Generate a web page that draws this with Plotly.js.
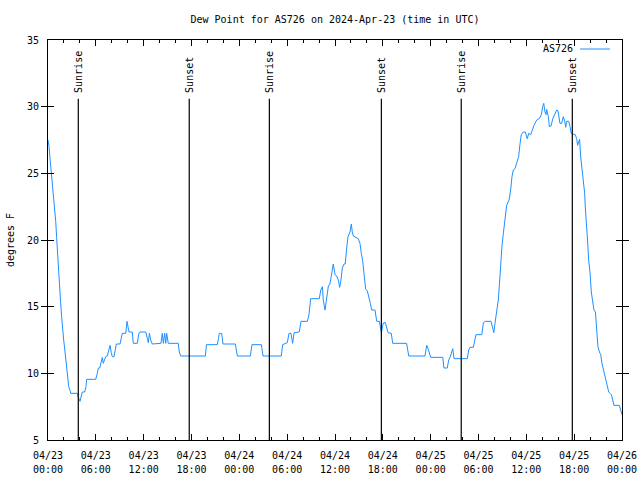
<!DOCTYPE html>
<html>
<head>
<meta charset="utf-8">
<script src="https://cdn.plot.ly/plotly-3.0.1.min.js"></script>
<style>html,body{margin:0;padding:0;background:#fff;}#chart{width:640px;height:480px;}</style>
</head>
<body>
<div id="chart"></div>
<script>
// Hours since 2024-04-23 00:00 UTC
const hoursSinceStart = [
0.00,0.13,0.25,0.41,0.54,0.66,0.84,0.97,1.09,1.22,1.34,1.47,1.59,1.72,1.84,1.97,2.09,2.22,2.35,2.47,2.60,2.76,2.85,3.68,3.76,4.01,4.18,4.30,4.60,4.77,4.85,5.98,6.18,6.31,6.48,6.69,6.81,6.94,7.11,7.24,7.44,7.65,7.78,7.94,8.07,8.28,8.40,8.57,9.03,9.19,9.32,9.75,9.91,10.04,10.16,10.57,10.70,11.20,11.38,11.54,12.26,12.46,12.58,12.71,12.88,13.08,14.17,14.34,14.46,14.64,14.76,14.89,15.09,16.34,16.47,16.65,
19.73,19.88,21.24,21.39,21.49,21.79,21.95,23.50,23.75,25.38,25.59,26.76,26.97,29.27,29.44,30.02,30.23,30.48,30.69,30.86,31.52,31.74,32.53,32.74,32.95,34.03,34.21,34.41,34.53,34.75,34.87,35.00,35.16,35.37,35.59,35.79,36.00,36.22,36.42,36.59,36.75,36.92,37.13,37.29,37.47,37.63,37.88,38.05,38.17,38.30,38.92,39.14,39.30,39.48,39.64,39.85,40.05,40.27,40.43,40.60,41.02,41.14,41.23,41.56,41.68,41.81,41.98,42.11,42.31,42.49,42.65,43.06,43.24,44.99,45.25,47.29,47.50,47.70,47.92,48.00,49.51,49.67,50.08,50.26,50.43,50.64,50.76,50.93,52.60,52.77,52.94,53.35,53.53,53.69,54.41,54.61,54.86,55.57,55.78,55.91,56.07,56.29,56.49,56.61,56.79,56.95,57.11,57.33,57.54,57.83,58.04,58.20,58.37,58.58,58.79,59.04,59.21,59.37,59.62,59.87,60.12,60.30,60.55,60.80,60.96,61.21,61.38,61.63,61.88,62.05,62.18,62.34,62.47,62.55,62.76,62.88,63.10,63.31,63.56,63.81,63.97,64.22,64.43,64.63,64.81,64.94,65.06,65.31,65.48,65.64,66.14,66.32,66.44,66.57,66.69,66.82,66.98,67.15,67.32,67.40,67.57,67.70,67.82,67.99,68.15,68.33,68.49,68.66,68.83,68.99,69.16,69.33,69.49,69.66,69.83,69.99,70.16,70.34,70.50,70.66,70.83,70.99,71.66,71.75,71.87,72.00
];
const dewPointF = [
27.5,27.0,26.15,25.1,24.2,23.0,22.1,21.4,20.2,18.7,17.4,16.3,15.3,14.2,13.1,12.5,11.9,11.1,10.3,9.65,9.0,8.7,8.5,8.5,8.25,7.9,8.25,8.6,8.6,9.0,9.55,9.55,10.0,10.4,10.4,11.0,11.2,10.75,11.1,11.25,11.3,11.75,12.1,11.55,11.25,11.25,11.75,12.2,12.2,12.6,13.0,13.0,13.9,13.5,13.1,13.1,12.25,12.25,12.95,13.1,13.1,12.6,12.3,13.0,12.5,12.2,12.25,13.0,12.25,13.0,12.25,13.0,12.25,12.25,11.6,11.3,
11.3,12.15,12.15,12.6,13.0,13.0,12.2,12.2,11.3,11.3,12.15,12.15,11.3,11.3,12.15,12.3,13.0,13.0,12.25,13.05,13.1,13.9,13.9,14.4,15.6,15.6,16.25,16.5,15.5,14.75,15.2,16.0,16.55,16.7,17.4,18.2,17.4,17.3,17.0,16.45,17.0,17.9,18.2,18.2,19.4,20.25,20.6,21.2,20.6,20.3,20.1,19.75,19.0,18.4,17.5,16.3,16.2,15.75,15.25,14.75,14.75,14.3,13.9,13.9,13.5,13.05,13.6,13.8,13.8,13.4,13.05,13.0,12.25,12.25,11.3,11.3,12.1,11.8,11.3,11.2,11.2,10.4,10.4,11.0,11.2,11.6,11.85,11.1,11.1,11.75,11.95,11.95,12.6,12.9,12.9,13.8,13.9,13.9,13.4,13.05,13.75,14.6,15.5,16.6,18.4,19.6,20.5,21.5,22.6,23.0,23.75,24.75,25.25,25.35,25.75,26.25,27.25,27.9,28.1,28.1,27.6,28.0,27.9,28.4,28.6,28.9,29.05,29.1,29.4,30.0,30.25,29.6,29.4,29.8,29.25,28.5,28.55,29.1,29.5,29.75,29.7,28.75,28.75,29.25,28.9,28.45,28.9,28.9,28.5,28.0,27.9,27.6,27.1,27.4,27.55,26.25,25.25,24.5,23.5,22.4,21.25,19.75,18.5,17.6,16.1,15.1,14.75,14.6,12.75,12.0,11.6,11.4,10.75,10.25,9.75,9.4,9.0,8.6,8.5,8.4,8.0,7.6,7.6,7.4,7.0,6.9
];
const sunTimes = ["2024-04-23 03:48","2024-04-23 17:43","2024-04-24 03:46","2024-04-24 17:49","2024-04-25 03:50","2024-04-25 17:46"];
const sunLabels = ["Sunrise","Sunset","Sunrise","Sunset","Sunrise","Sunset"];
const seriesName = "AS726";
const chartTitle = "Dew Point for AS726 on 2024-Apr-23 (time in UTC)";
const yLabel = "degrees F";
const xRange = ['2024-04-23 00:00', '2024-04-26 00:00'];

const base = Date.UTC(2024, 3, 23);
const times = hoursSinceStart.map(h => new Date(base + Math.round(h * 3600000 / 60000) * 60000).toISOString().replace('T', ' ').slice(0, 19));

const FONT = {family: "DejaVu Sans Mono, monospace", size: 10, color: "#000"};
const lineTop = 30.6;

const shapes = sunTimes.map(t => ({type: 'line', xref: 'x', yref: 'y', x0: t, x1: t, y0: 5, y1: lineTop, line: {color: '#000', width: 1.2}}));
shapes.push({type: 'line', xref: 'paper', yref: 'paper', x0: 0.927, x1: 0.979, y0: 0.9775, y1: 0.9775, line: {color: '#1E90FF', width: 1}});

const annotations = sunTimes.map((t, i) => ({x: t, y: lineTop, xref: 'x', yref: 'y', text: sunLabels[i], textangle: -90, showarrow: false, xanchor: 'center', yanchor: 'bottom', yshift: 4, font: FONT}));
annotations.push({x: 0.918, y: 0.9775, xref: 'paper', yref: 'paper', text: seriesName, showarrow: false, xanchor: 'right', yanchor: 'middle', font: FONT});

const trace = {x: times, y: dewPointF, type: 'scatter', mode: 'lines', name: seriesName, line: {color: '#1E90FF', width: 1}, showlegend: false};
// carrier for the second (time-of-day) label row of the shared x axis
const timeRow = {x: [times[0]], y: [null], xaxis: 'x2', yaxis: 'y', type: 'scatter', mode: 'lines', showlegend: false, hoverinfo: 'skip'};

const axBase = {
  type: 'date', range: xRange, tick0: xRange[0], dtick: 6 * 3600000,
  showgrid: false, zeroline: false, automargin: false, tickfont: FONT
};

const layout = {
  width: 640, height: 480,
  margin: {l: 48, r: 18, t: 40, b: 40, pad: 0},
  paper_bgcolor: '#fff', plot_bgcolor: '#fff',
  font: FONT,
  title: {text: chartTitle, xref: 'paper', x: 0.5, xanchor: 'center', y: 1 - 19/480, yanchor: 'middle', font: FONT},
  showlegend: false,
  xaxis: Object.assign({}, axBase, {
    tickformat: '%m/%d', ticklabelstandoff: 6,
    ticks: 'inside', ticklen: 6, tickcolor: '#000', tickwidth: 1,
    showline: true, linecolor: '#000', linewidth: 1, mirror: 'allticks',
    minor: {dtick: 2 * 3600000, ticks: 'inside', ticklen: 3, tickcolor: '#000', showgrid: false}
  }),
  xaxis2: Object.assign({}, axBase, {
    overlaying: 'x', side: 'bottom', anchor: 'y', matches: 'x',
    tickformat: '%H:%M', ticklabelstandoff: 22, ticks: '', showline: false
  }),
  yaxis: {
    range: [5, 35], dtick: 5, tick0: 5,
    ticks: 'inside', ticklen: 6, tickcolor: '#000', tickwidth: 1,
    showline: true, linecolor: '#000', linewidth: 1, mirror: 'allticks',
    showgrid: false, zeroline: false, automargin: false, ticklabelstandoff: 6,
    title: {text: yLabel, font: FONT, standoff: 10},
    tickfont: FONT
  },
  shapes: shapes,
  annotations: annotations
};

Plotly.newPlot('chart', [trace, timeRow], layout, {staticPlot: true, displayModeBar: false});
</script>
</body>
</html>
